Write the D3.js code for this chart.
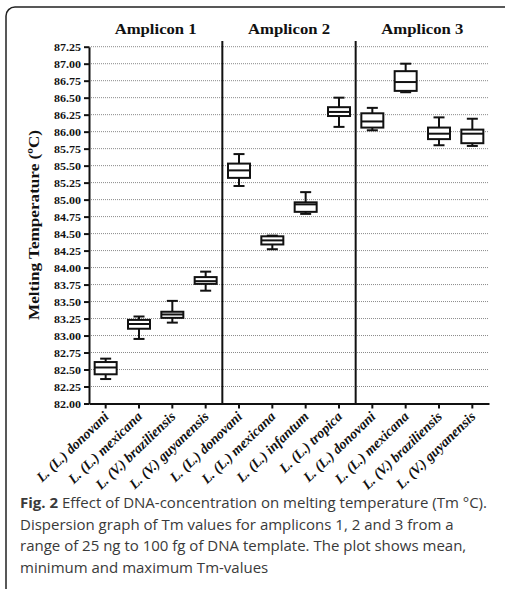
<!DOCTYPE html>
<html>
<head>
<meta charset="utf-8">
<script src="https://cdn.jsdelivr.net/npm/d3@7"></script>
<style>
  body{margin:0;background:#fff;}
  svg{display:block;}
</style>
</head>
<body>
<div class="container"></div>
<script>
const groups=["Amplicon 1","Amplicon 2","Amplicon 3"];
const species=[
  "L. (L.) donovani","L. (L.) mexicana","L. (V.) braziliensis","L. (V.) guyanensis",
  "L. (L.) donovani","L. (L.) mexicana","L. (L.) infantum","L. (L.) tropica",
  "L. (L.) donovani","L. (L.) mexicana","L. (V.) braziliensis","L. (V.) guyanensis"
];
// Tm values (°C)
const minVals=[82.36,82.95,83.19,83.66,85.20,84.27,84.79,86.07,86.02,86.58,85.80,85.79];
const q1Vals =[82.43,83.10,83.26,83.76,85.32,84.34,84.82,86.23,86.06,86.60,85.89,85.83];
const medVals=[82.53,83.17,83.31,83.80,85.43,84.40,84.93,86.29,86.15,86.73,85.97,85.97];
const q3Vals =[82.61,83.23,83.35,83.86,85.53,84.46,84.96,86.36,86.27,86.89,86.06,86.03];
const maxVals=[82.66,83.28,83.51,83.94,85.67,84.47,85.11,86.50,86.35,87.00,86.21,86.19];
const yTicks=[82.00,82.25,82.50,82.75,83.00,83.25,83.50,83.75,84.00,84.25,84.50,84.75,
  85.00,85.25,85.50,85.75,86.00,86.25,86.50,86.75,87.00,87.25];
const caption=[
  "Effect of DNA-concentration on melting temperature (Tm °C).",
  "Dispersion graph of Tm values for amplicons 1, 2 and 3 from a",
  "range of 25 ng to 100 fg of DNA template. The plot shows mean,",
  "minimum and maximum Tm-values"
];

const W=505,H=589;
const serif="'Liberation Serif','Times New Roman',serif";

const svg=d3.select('.container')
  .append("svg")
  .attr("width",W)
  .attr("height",H);

// frame round the figure
svg.append("rect")
  .attr("x",6).attr("y",7)
  .attr("width",520).attr("height",590)
  .attr("rx",9)
  .attr("fill","none")
  .attr("stroke","#222")
  .attr("stroke-width",1.5);

const x=d3.scaleBand().domain(d3.range(species.length)).range([89,489]);
const y=d3.scaleLinear().domain([82,87.25]).range([403.5,46.7]);

let boxes=species.map((s,i)=>({
  i:i,
  min:minVals[i],q1:q1Vals[i],med:medVals[i],q3:q3Vals[i],max:maxVals[i]
}));

// gridlines
svg.append("g")
  .selectAll("line")
  .data(yTicks.slice(1))
  .enter()
  .append("line")
  .attr("x1",89).attr("x2",489)
  .attr("y1",d=>y(d)).attr("y2",d=>y(d))
  .attr("stroke","#8a8a8a")
  .attr("stroke-width",1)
  .attr("stroke-dasharray","1,1");

// separators between amplicons
svg.append("g")
  .selectAll("line")
  .data([4,8])
  .enter()
  .append("line")
  .attr("x1",d=>x(d)).attr("x2",d=>x(d))
  .attr("y1",41).attr("y2",y(82))
  .attr("stroke","#111")
  .attr("stroke-width",2);

// amplicon headers
svg.append("g")
  .selectAll("text")
  .data(groups)
  .enter()
  .append("text")
  .attr("x",(d,k)=>(x(k*4)+x(k*4+3)+x.bandwidth())/2)
  .attr("y",34)
  .attr("text-anchor","middle")
  .attr("font-family",serif)
  .attr("font-weight","bold")
  .attr("font-size",15.5)
  .attr("textLength",82)
  .attr("lengthAdjust","spacingAndGlyphs")
  .attr("fill","#111")
  .text(d=>d);

// y axis
let yAxis=svg.append("g")
  .attr("transform","translate(89,0)")
  .call(d3.axisLeft(y).tickValues(yTicks).tickFormat(d3.format(".2f")).tickSize(5).tickSizeOuter(0));
yAxis.select(".domain").attr("stroke","#111").attr("stroke-width",2);
yAxis.selectAll(".tick line").attr("stroke","#111").attr("stroke-width",2);
yAxis.selectAll(".tick text")
  .attr("x",-8)
  .attr("font-family",serif)
  .attr("font-weight","bold")
  .attr("font-size",11)
  .attr("textLength",27)
  .attr("lengthAdjust","spacingAndGlyphs")
  .attr("fill","#111");

// x axis
let xAxis=svg.append("g")
  .attr("transform",`translate(0,${y(82)})`)
  .call(d3.axisBottom(x).tickFormat(i=>species[i]).tickSize(5).tickSizeOuter(0));
xAxis.select(".domain").attr("stroke","#111").attr("stroke-width",2.2);
xAxis.selectAll(".tick line").attr("stroke","#111").attr("stroke-width",2);
xAxis.selectAll(".tick text")
  .attr("x",0).attr("y",0).attr("dy",0)
  .attr("text-anchor","end")
  .attr("transform","translate(4,14) rotate(-44)")
  .attr("font-family",serif)
  .attr("font-weight","bold")
  .attr("font-style","italic")
  .attr("font-size",14)
  .attr("fill","#111");

// y title
svg.append("text")
  .attr("transform","translate(39,225) rotate(-90)")
  .attr("text-anchor","middle")
  .attr("font-family",serif)
  .attr("font-weight","bold")
  .attr("font-size",15.5)
  .attr("textLength",190)
  .attr("lengthAdjust","spacingAndGlyphs")
  .attr("fill","#111")
  .text("Melting Temperature (ºC)");

// box plots
let bw=22,cw=11;
let bx=svg.append("g")
  .selectAll("g")
  .data(boxes)
  .enter()
  .append("g")
  .attr("transform",d=>`translate(${x(d.i)+x.bandwidth()/2},0)`)
  .attr("stroke","#111")
  .attr("stroke-width",2)
  .attr("fill","none");

bx.append("line").attr("x1",0).attr("x2",0).attr("y1",d=>y(d.max)).attr("y2",d=>y(d.q3));
bx.append("line").attr("x1",0).attr("x2",0).attr("y1",d=>y(d.q1)).attr("y2",d=>y(d.min));
bx.append("line").attr("x1",-cw/2).attr("x2",cw/2).attr("y1",d=>y(d.max)).attr("y2",d=>y(d.max));
bx.append("line").attr("x1",-cw/2).attr("x2",cw/2).attr("y1",d=>y(d.min)).attr("y2",d=>y(d.min));
bx.append("rect")
  .attr("x",-bw/2).attr("width",bw)
  .attr("y",d=>y(d.q3))
  .attr("height",d=>y(d.q1)-y(d.q3))
  .attr("fill","#fff");
bx.append("line").attr("x1",-bw/2).attr("x2",bw/2).attr("y1",d=>y(d.med)).attr("y2",d=>y(d.med));

// caption
let cap=svg.append("text")
  .attr("font-family","'Open Sans','Noto Sans',sans-serif")
  .attr("font-size",15)
  .attr("fill","#3a3a3a");
caption.forEach((line,k)=>{
  let t=cap.append("tspan").attr("x",20).attr("y",508+k*21.7);
  if(k===0){
    t.append("tspan").attr("font-weight","bold").text("Fig. 2");
    t.append("tspan").text(" "+line);
  }else{
    t.text(line);
  }
});
</script>
</body>
</html>
